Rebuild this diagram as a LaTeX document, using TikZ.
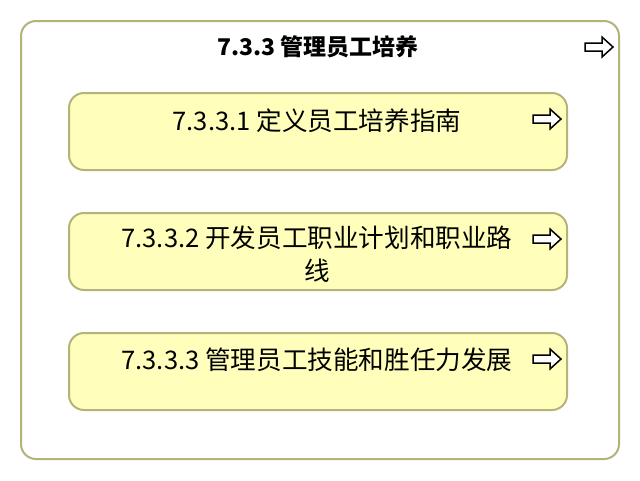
\documentclass[tikz,border=0pt]{standalone}
\usepackage{fontspec}
\setmainfont{Noto Sans CJK SC}
\begin{document}
\begin{tikzpicture}[x=1pt,y=-1pt,
  outerbox/.style={draw=olivestroke,line width=2pt,rounded corners=15pt,fill=white},
  taskbox/.style={draw=olivestroke,line width=2pt,rounded corners=15pt,fill=taskfill},
  tasklabel/.style={font=\fontsize{25.6}{33}\selectfont,align=center,inner sep=0pt},
  titlelabel/.style={font=\fontsize{23}{28}\selectfont\bfseries,inner sep=0pt},
  arrowicon/.pic={\draw[line width=1.5pt,fill=white,line join=miter]
    (-14,-4) -- (3,-4) -- (3,-10) -- (14,0) -- (3,10) -- (3,4) -- (-14,4) -- cycle;}
]
\definecolor{olivestroke}{RGB}{180,180,122}
\definecolor{taskfill}{RGB}{255,255,187}
\useasboundingbox (0,0) rectangle (640,480);
\fill[white] (0,0) rectangle (640,480);
\draw[outerbox] (21,21) rectangle (619,459);
\node[titlelabel] (title) at (318,47) {7.3.3 管理员工培养};
\pic at (599,47) {arrowicon};
\draw[taskbox] (69,93) rectangle (567,170);
\node[tasklabel] (t1) at (317,121) {7.3.3.1 定义员工培养指南};
\pic at (547,119) {arrowicon};
\draw[taskbox] (69,213) rectangle (567,290);
\node[tasklabel,anchor=north] (t2) at (317,226) {7.3.3.2 开发员工职业计划和职业路\\线};
\pic at (547,239) {arrowicon};
\draw[taskbox] (69,333) rectangle (567,410);
\node[tasklabel] (t3) at (317,360) {7.3.3.3 管理员工技能和胜任力发展};
\pic at (547,359) {arrowicon};
\end{tikzpicture}
\end{document}
